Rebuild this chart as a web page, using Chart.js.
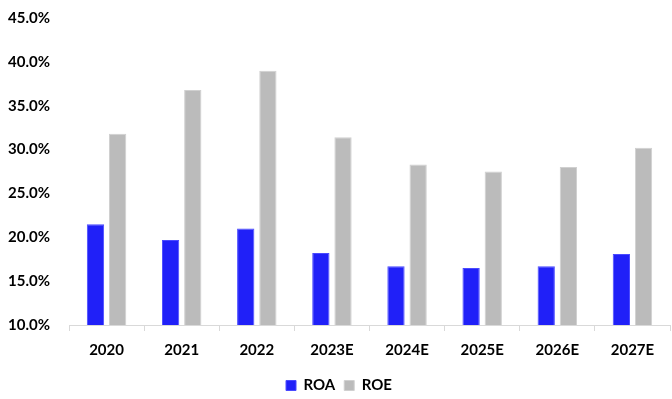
<!DOCTYPE html>
<html>
<head>
<meta charset="utf-8">
<script src="https://cdn.jsdelivr.net/npm/chart.js@4"></script>
<style>
  html, body { margin: 0; padding: 0; background: #fff; }
  #wrap { width: 672px; height: 399px; }
</style>
</head>
<body>
<div id="wrap"><canvas id="chart" width="672" height="399"></canvas></div>
<script>
// values
const years = ['2020', '2021', '2022', '2023E', '2024E', '2025E', '2026E', '2027E'];
const roa = [21.5, 19.7, 21.0, 18.2, 16.7, 16.5, 16.7, 18.1];
const roe = [31.8, 36.8, 39.0, 31.4, 28.3, 27.5, 28.0, 30.2];

const fontBold = { family: "Lato, 'Open Sans', sans-serif", size: 15, weight: 'bold' };

new Chart(document.getElementById('chart'), {
  type: 'bar',
  data: {
    labels: years,
    datasets: [
      { label: 'ROA', data: roa, backgroundColor: '#2020f8', borderColor: '#4a4aff', borderWidth: 1 },
      { label: 'ROE', data: roe, backgroundColor: '#bbbbbb', borderColor: '#d0d0d0', borderWidth: 1 }
    ]
  },
  options: {
    responsive: false,
    animation: false,
    layout: { padding: { left: 8, right: 2, top: 18, bottom: -4 } },
    datasets: { bar: { categoryPercentage: 0.59, barPercentage: 0.78 } },
    scales: {
      x: {
        offset: true,
        grid: { drawOnChartArea: false, color: '#d9d9d9', tickLength: 6, offset: true },
        border: { color: '#d9d9d9' },
        ticks: { color: '#000', font: fontBold, padding: 10 }
      },
      y: {
        min: 10,
        max: 45,
        ticks: {
          stepSize: 5,
          color: '#000',
          font: fontBold,
          crossAlign: 'far',
          callback: v => v.toFixed(1) + '%'
        },
        grid: { display: false },
        border: { display: false },
        afterFit: s => { s.width = 61; }
      }
    },
    plugins: {
      legend: {
        position: 'bottom',
        labels: { color: '#000', font: fontBold, boxWidth: 10, boxHeight: 10, padding: 9 }
      },
      tooltip: { enabled: false }
    }
  }
});
</script>
</body>
</html>
